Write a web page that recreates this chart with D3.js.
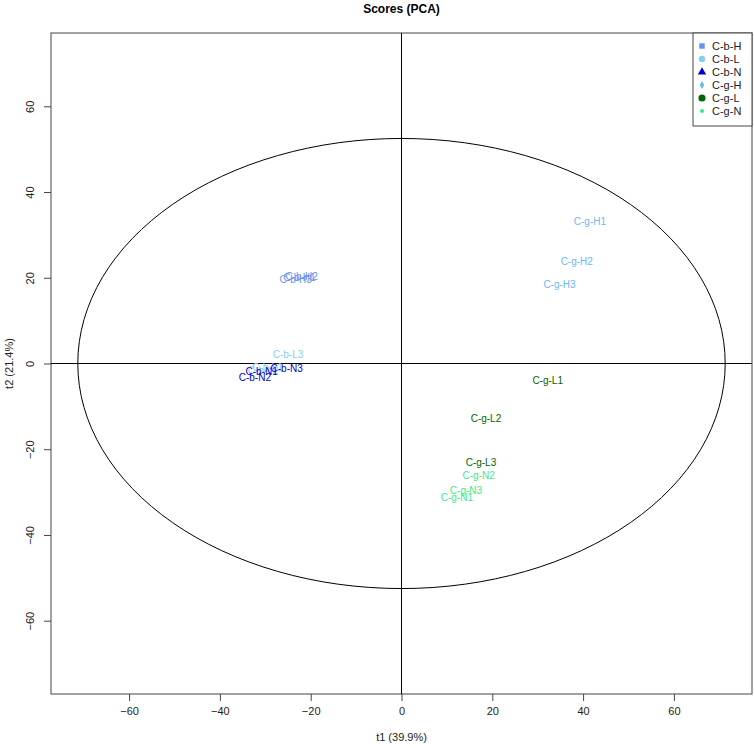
<!DOCTYPE html>
<meta charset='utf-8'>
<style>
  body { margin: 0; background: #fff; }
  text { font-family: 'Liberation Sans', Arial, sans-serif; }
</style>
<div id='chart'></div>
<script src='https://d3js.org/d3.v7.min.js'></script>
<script>

  // groups and their colours / legend symbols
  var groups = ['C-b-H', 'C-b-L', 'C-b-N', 'C-g-H', 'C-g-L', 'C-g-N'];
  var groupColors = ['#6495ED', '#87CEEB', '#0000CD', '#6CB6F7', '#006400', '#3CEB86'];
  var groupShapes = ['square', 'circle', 'triangle', 'diamond', 'circle', 'dot'];

  // sample scores (t1, t2)
  var samples = ['C-b-H1', 'C-b-H2', 'C-b-H3', 'C-b-L1', 'C-b-L2', 'C-b-L3',
                 'C-b-N1', 'C-b-N2', 'C-b-N3', 'C-g-H1', 'C-g-H2', 'C-g-H3',
                 'C-g-L1', 'C-g-L2', 'C-g-L3', 'C-g-N1', 'C-g-N2', 'C-g-N3'];
  var t1 = [-22.5, -22.0, -23.3, -29.5, -30.5, -25.0,
            -30.8, -32.3, -25.3, 41.5, 38.6, 34.8,
            32.2, 18.6, 17.5, 12.2, 17.0, 14.2];
  var t2 = [20.0, 20.3, 19.6, -1.0, -1.6, 2.1,
            -1.9, -3.3, -1.2, 33.1, 23.8, 18.4,
            -4.0, -12.8, -23.1, -31.3, -26.1, -29.6];

  var xTicks = [-60, -40, -20, 0, 20, 40, 60];
  var yTicks = [-60, -40, -20, 0, 20, 40, 60];

  // Hotelling T2 ellipse semi-axes
  var ellipseA = 71.3, ellipseB = 52.5;

  var W = 754, H = 748;
  var margin = {top: 33, right: 2, bottom: 54, left: 51};

  var svg = d3.select('#chart')
    .append('svg')
      .attr('width', W)
      .attr('height', H);

  var x = d3.scaleLinear()
    .domain([-77.2, 77.2])
    .range([margin.left, W - margin.right]);
  var y = d3.scaleLinear()
    .domain([-77.1, 77.1])
    .range([H - margin.bottom, margin.top]);

  // title
  svg.append('text')
    .attr('x', x(0))
    .attr('y', 13)
    .attr('text-anchor', 'middle')
    .style('font-size', '12px')
    .style('font-weight', 'bold')
    .text('Scores (PCA)');

  // axes
  var xAxis = svg.append('g')
    .attr('transform', 'translate(0,' + (H - margin.bottom) + ')')
    .call(d3.axisBottom(x).tickValues(xTicks).tickSize(7).tickPadding(6).tickFormat(d3.format('d')));
  var yAxis = svg.append('g')
    .attr('transform', 'translate(' + margin.left + ',0)')
    .call(d3.axisLeft(y).tickValues(yTicks).tickSize(7).tickPadding(6).tickFormat(d3.format('d')));
  [xAxis, yAxis].forEach(function (g) {
    g.select('.domain').remove();
    g.selectAll('line').attr('stroke', '#444');
    g.selectAll('text').style('font-size', '11px').attr('fill', '#222')
      .style('font-family', "'Liberation Sans', Arial, sans-serif");
  });
  yAxis.selectAll('text')
    .attr('transform', function (d) { return 'rotate(-90,' + (-13) + ',' + 0 + ')'; })
    .attr('x', -13).attr('dy', '0.32em').attr('dx', 0)
    .attr('text-anchor', 'middle');
  yAxis.selectAll('.tick text')
    .attr('transform', 'rotate(-90)')
    .attr('x', 0).attr('y', -17).attr('dy', 0);

  // frame
  svg.append('rect')
    .attr('x', x.range()[0])
    .attr('y', y.range()[1])
    .attr('width', x.range()[1] - x.range()[0])
    .attr('height', y.range()[0] - y.range()[1])
    .attr('fill', 'none')
    .attr('stroke', '#444');

  // axis labels
  svg.append('text')
    .attr('x', x(0))
    .attr('y', 741)
    .attr('text-anchor', 'middle')
    .style('font-size', '11px')
    .attr('fill', '#222')
    .text('t1 (39.9%)');
  svg.append('text')
    .attr('transform', 'translate(13,' + y(0) + ') rotate(-90)')
    .attr('text-anchor', 'middle')
    .style('font-size', '11px')
    .attr('fill', '#222')
    .text('t2 (21.4%)');

  // zero lines
  svg.append('line')
    .attr('x1', x(0)).attr('x2', x(0))
    .attr('y1', y.range()[1]).attr('y2', y.range()[0])
    .attr('stroke', '#000');
  svg.append('line')
    .attr('x1', x.range()[0]).attr('x2', x.range()[1])
    .attr('y1', y(0)).attr('y2', y(0))
    .attr('stroke', '#000');

  // ellipse
  svg.append('ellipse')
    .attr('cx', x(0))
    .attr('cy', y(0))
    .attr('rx', x(ellipseA) - x(0))
    .attr('ry', y(0) - y(ellipseB))
    .attr('fill', 'none')
    .attr('stroke', '#000');

  // sample labels
  svg.append('g')
    .selectAll('text')
    .data(samples)
    .enter()
    .append('text')
      .attr('x', function (d, i) { return x(t1[i]); })
      .attr('y', function (d, i) { return y(t2[i]); })
      .attr('dy', '0.35em')
      .attr('text-anchor', 'middle')
      .style('font-size', '10px')
      .attr('fill', function (d) { return groupColors[groups.indexOf(d.slice(0, 5))]; })
      .text(function (d) { return d; });

  // legend
  var lg = svg.append('g');
  lg.append('rect')
    .attr('x', 693).attr('y', 33)
    .attr('width', 59).attr('height', 93)
    .attr('fill', '#fff')
    .attr('stroke', '#444');
  var symType = {
    square: d3.symbolSquare, circle: d3.symbolCircle, triangle: d3.symbolTriangle,
    diamond: d3.symbolDiamond, dot: d3.symbolCircle
  };
  var symSize = {square: 30, circle: 32, triangle: 30, diamond: 18, dot: 14};
  groups.forEach(function (g, i) {
    var yy = 46 + i * 13;
    var shape = (i === 4) ? 'circle' : groupShapes[i];
    lg.append('path')
      .attr('transform', 'translate(702,' + yy + ')')
      .attr('d', d3.symbol().type(symType[shape]).size(i === 4 ? 40 : symSize[shape]))
      .attr('fill', groupColors[i]);
    lg.append('text')
      .attr('x', 712)
      .attr('y', yy)
      .attr('dy', '0.35em')
      .style('font-size', '11px')
      .attr('fill', '#222')
      .text(g);
  });

</script>
